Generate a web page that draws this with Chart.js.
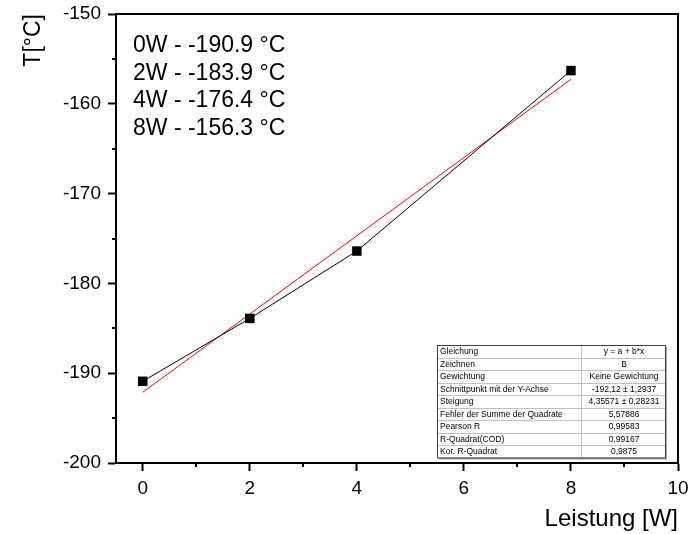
<!DOCTYPE html>
<html>
<head>
<meta charset="utf-8">
<script src="https://cdn.jsdelivr.net/npm/chart.js@4/dist/chart.umd.min.js"></script>
<style>
  html, body { margin: 0; padding: 0; background: #fff; }
  #wrap { width: 698px; height: 534px; }
</style>
</head>
<body>
<div id="wrap"><canvas id="c" width="698" height="534"></canvas></div>
<script>
// Measured temperature versus heating power
const powerW = [0, 2, 4, 8];
const tempC = [-190.9, -183.9, -176.4, -156.3];

// Linear fit y = a + b*x
const fitIntercept = -192.12;
const fitSlope = 4.35571;
const fitRangeX = [0, 8];

// Axis tick values
const xTickValues = [0, 2, 4, 6, 8, 10];
const xMinorTicks = [1, 3, 5, 7, 9];
const yTickValues = [-200, -190, -180, -170, -160, -150];
const yMinorTicks = [-195, -185, -175, -165, -155];

// Fit statistics table
const statLabels = ['Gleichung', 'Zeichnen', 'Gewichtung', 'Schnittpunkt mit der Y-Achse', 'Steigung',
  'Fehler der Summe der Quadrate', 'Pearson R', 'R-Quadrat(COD)', 'Kor. R-Quadrat'];
const statValues = ['y = a + b*x', 'B', 'Keine Gewichtung', '-192,12 \u00b1 1,2937', '4,35571 \u00b1 0,28231',
  '5,57886', '0,99583', '0,99167', '0,9875'];

const FONT = "'Liberation Sans', Arial, sans-serif";
Chart.defaults.font.family = FONT;
Chart.defaults.color = '#000';

const measured = powerW.map((x, i) => ({ x: x, y: tempC[i] }));
const fitLine = fitRangeX.map(x => ({ x: x, y: fitIntercept + fitSlope * x }));

// Frame, minor ticks, value list and statistics table
const decorations = {
  id: 'decorations',
  afterDraw(chart) {
    const ctx = chart.ctx;
    const a = chart.chartArea;
    const xs = chart.scales.x, ys = chart.scales.y;
    ctx.save();
    ctx.strokeStyle = '#000';
    ctx.lineWidth = 2;
    ctx.beginPath();
    ctx.moveTo(a.left, a.top); ctx.lineTo(a.right, a.top); ctx.lineTo(a.right, a.bottom);
    ctx.stroke();

    // minor ticks
    ctx.beginPath();
    xMinorTicks.forEach(v => {
      const px = Math.round(xs.getPixelForValue(v));
      ctx.moveTo(px, a.bottom); ctx.lineTo(px, a.bottom + 4);
    });
    yMinorTicks.forEach(v => {
      const py = Math.round(ys.getPixelForValue(v));
      ctx.moveTo(a.left, py); ctx.lineTo(a.left - 4, py);
    });
    ctx.stroke();

    // value list
    ctx.fillStyle = '#000';
    ctx.font = '23px ' + FONT;
    ctx.textAlign = 'left';
    ctx.textBaseline = 'alphabetic';
    powerW.forEach((p, i) => {
      ctx.fillText(p + 'W - ' + tempC[i].toFixed(1) + ' \u00b0C', 133, 52 + i * 27.5);
    });

    // statistics table
    const tx = 437, ty = 345, tw = 228, rh = 12.5, split = 581;
    const th = rh * statLabels.length;
    ctx.fillStyle = '#a8a8a8';
    ctx.fillRect(tx + 2, ty + 2, tw, th);
    ctx.fillStyle = '#fff';
    ctx.fillRect(tx, ty, tw, th);
    ctx.lineWidth = 1;
    ctx.strokeStyle = '#c0c0c0';
    ctx.beginPath();
    for (let i = 1; i < statLabels.length; i++) {
      const yy = Math.round(ty + i * rh) + 0.5;
      ctx.moveTo(tx, yy); ctx.lineTo(tx + tw, yy);
    }
    ctx.moveTo(split + 0.5, ty); ctx.lineTo(split + 0.5, ty + th);
    ctx.stroke();
    ctx.strokeStyle = '#404040';
    ctx.strokeRect(tx + 0.5, ty + 0.5, tw, th);

    ctx.fillStyle = '#000';
    ctx.font = '8.5px ' + FONT;
    ctx.textBaseline = 'middle';
    statLabels.forEach((s, i) => {
      const cy = ty + i * rh + rh / 2 + 0.5;
      ctx.textAlign = 'left';
      ctx.fillText(s, tx + 3, cy);
      ctx.textAlign = 'center';
      ctx.fillText(statValues[i], (split + tx + tw) / 2 + 1, cy);
    });
    ctx.restore();
  }
};

new Chart(document.getElementById('c'), {
  type: 'scatter',
  data: {
    datasets: [
      {
        label: 'B',
        data: measured,
        showLine: true,
        borderColor: '#000',
        borderWidth: 1,
        backgroundColor: '#000',
        pointStyle: 'rect',
        pointRadius: 6.7,
        pointBorderWidth: 0,
        order: 1
      },
      {
        label: 'Linear Fit',
        data: fitLine,
        showLine: true,
        borderColor: '#ff0000',
        borderWidth: 1,
        pointRadius: 0,
        order: 2
      }
    ]
  },
  options: {
    responsive: false,
    animation: false,
    layout: { padding: { left: 0, right: 20, top: 14, bottom: 0 } },
    plugins: { legend: { display: false }, tooltip: { enabled: false } },
    scales: {
      x: {
        type: 'linear',
        min: -0.5,
        max: 10,
        afterBuildTicks(scale) { scale.ticks = xTickValues.map(v => ({ value: v })); },
        afterFit(scale) { scale.height = 71; scale.paddingLeft = 0; scale.paddingRight = 0; },
        ticks: { font: { size: 19 }, color: '#000', padding: 6, maxRotation: 0, callback: v => String(v) },
        grid: { drawOnChartArea: false, drawTicks: true, tickLength: 8, tickWidth: 2, tickColor: '#000' },
        border: { display: true, color: '#000', width: 2 },
        title: { display: true, text: 'Leistung [W]', align: 'end', font: { size: 24 }, color: '#000', padding: { top: 0, bottom: 0 } }
      },
      y: {
        type: 'linear',
        min: -200,
        max: -150,
        afterBuildTicks(scale) { scale.ticks = yTickValues.map(v => ({ value: v })); },
        afterFit(scale) { scale.width = 116; scale.paddingTop = 0; scale.paddingBottom = 0; },
        ticks: { font: { size: 19 }, color: '#000', padding: 7, callback: v => String(v) },
        grid: { drawOnChartArea: false, drawTicks: true, tickLength: 8, tickWidth: 2, tickColor: '#000' },
        border: { display: true, color: '#000', width: 2 },
        title: { display: true, text: 'T[\u00b0C]', align: 'end', font: { size: 23 }, color: '#000', padding: { top: 20, bottom: 0 } }
      }
    }
  },
  plugins: [decorations]
});
</script>
</body>
</html>
